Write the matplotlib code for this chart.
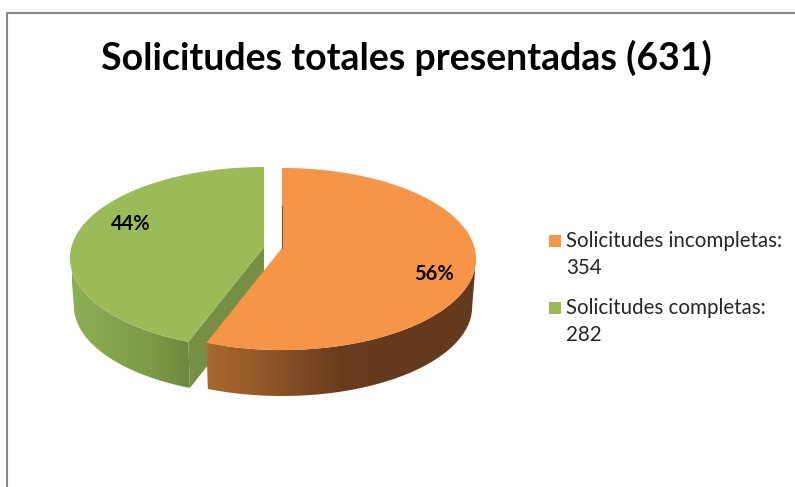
import numpy as np
import matplotlib
matplotlib.use('Agg')
import matplotlib.pyplot as plt
from matplotlib.colors import LinearSegmentedColormap
from matplotlib.patches import Polygon, Rectangle

# ===== data =====
categories = ['Solicitudes incompletas', 'Solicitudes completas']
values = [354, 282]
title = 'Solicitudes totales presentadas (631)'

# ===== layout (pixels of the 795x487 picture) =====
W, H = 795, 487
RX, RY = 192.6, 89.7   # radii before perspective
K = 0.121              # perspective strength
DEPTH = 48
SHRINK = 0.98          # bottom face is a bit further away
CENTERS = [(282, 248), (264, 247)]
TOP = ['#F69547', '#9BBB59']
CUT = ['#7A5A3A', '#768F45']
WALLS = [['#A8682F', '#985C2A', '#7F4C23', '#693C1D', '#653A1C', '#653A1C', '#653A1C'],
         ['#8DAF54', '#84A54C', '#7D9A47', '#6D883C']]
WALL_X = [(207, 475), (72, 190)]

plt.rcParams['font.family'] = ['Lato', 'DejaVu Sans']

fig = plt.figure(figsize=(W / 100, H / 100), dpi=100)
ax = fig.add_axes([0, 0, 1, 1])


def rim(center, t, scale=1.0, drop=0):
    """pie rim with a simple perspective; t=0 is the back, t=pi the front"""
    d = 1 + K * np.cos(t)
    x = center[0] + scale * RX * np.sin(t) / d
    y = center[1] + drop - scale * RY * np.cos(t) / d
    return np.column_stack([x, y])


def wall(center, t0, t1, colors, xr, z):
    t = np.linspace(t0, t1, 200)
    pts = np.vstack([rim(center, t), rim(center, t[::-1], SHRINK, DEPTH)])
    poly = Polygon(pts, closed=True, fc='none', ec='none', zorder=z)
    ax.add_patch(poly)
    cmap = LinearSegmentedColormap.from_list('w', colors)
    im = ax.imshow(np.linspace(0, 1, 256)[None, :], cmap=cmap, aspect='auto',
                   extent=(xr[0], xr[1], H, 0), zorder=z)
    im.set_clip_path(poly)


total = sum(values)
split = 2 * np.pi * values[0] / total
widest = np.pi / 2 + np.arcsin(K)

# --- green slice first, orange sits in front of it
c = CENTERS[1]
t = np.linspace(split, 2 * np.pi, 300)
wall(c, split, 2 * np.pi - widest, WALLS[1], WALL_X[1], 2)
tip = rim(c, np.array([split]))[0]
ax.add_patch(Polygon([c, tip, rim(c, np.array([split]), SHRINK, DEPTH)[0], [c[0], c[1] + DEPTH]],
                     fc=CUT[1], ec='none', zorder=3))
ax.add_patch(Polygon(np.vstack([[c], rim(c, t)]), fc=TOP[1], ec='none', zorder=4))

c = CENTERS[0]
t = np.linspace(0, split, 300)
wall(c, widest, split, WALLS[0], WALL_X[0], 5)
ax.add_patch(Polygon(np.vstack([[c], rim(c, t)]), fc=TOP[0], ec='none', zorder=6))
ax.plot([c[0], c[0]], [c[1] - 42, c[1]], color=CUT[0], lw=0.8, zorder=7)

# --- percent labels
ax.text(434, 274, f'{round(100 * values[0] / total)}%', fontsize=14.5, fontweight='bold',
        ha='center', va='center', color='black', zorder=8)
ax.text(131, 224, f'{round(100 * values[1] / total)}%', fontsize=14.5, fontweight='bold',
        ha='center', va='center', color='black', zorder=8)

# --- title
ax.text(406, 58, title, fontsize=27, fontweight='bold', ha='center', va='center', color='black')

# --- legend
for name, val, col, y in zip(categories, values, TOP, [241, 308]):
    ax.add_patch(Rectangle((549, y - 6), 12, 12, fc=col, ec='none'))
    ax.text(566, y, name + ':', fontsize=14.8, va='center', ha='left', color='#262626')
    ax.text(566, y + 27, str(val), fontsize=14.8, va='center', ha='left', color='#262626')

# --- chart frame, runs off the right and bottom of the crop
ax.plot([7, 7, W + 5], [H + 5, 13, 13], color='#868686', lw=1.5, zorder=9)

ax.set_xlim(0, W)
ax.set_ylim(H, 0)
ax.axis('off')
plt.savefig('out.png', dpi=100)
